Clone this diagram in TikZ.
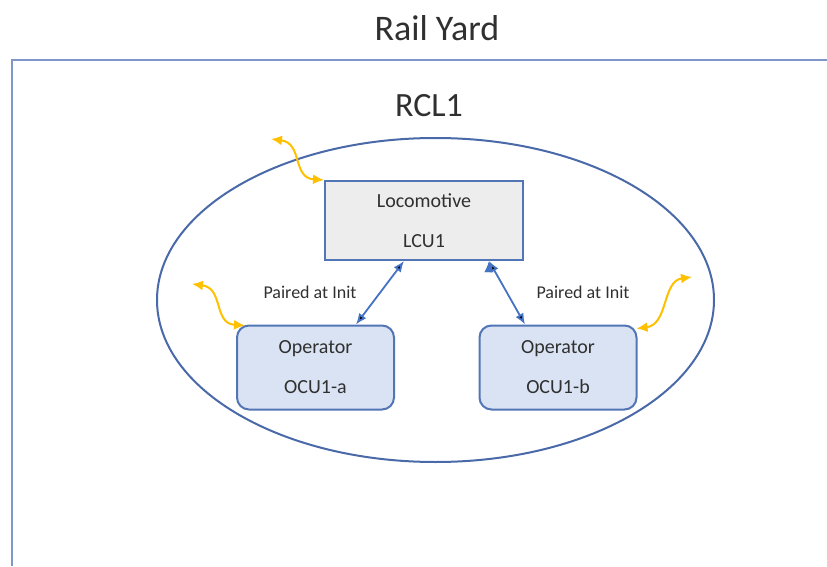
\documentclass[tikz,border=0pt]{standalone}
\usepackage{fontspec}
\setmainfont{Carlito}
\usetikzlibrary{positioning,arrows.meta,shapes.geometric}

\definecolor{yardline}{HTML}{7F97C9}
\definecolor{rclline}{HTML}{4A69A8}
\definecolor{boxline}{HTML}{5275B5}
\definecolor{locofill}{HTML}{EDEDED}
\definecolor{opfill}{HTML}{DAE3F3}
\definecolor{pairarrow}{HTML}{4472C4}
\definecolor{radioarrow}{HTML}{FFC000}
\definecolor{txt}{HTML}{303030}

\tikzset{
  unit/.style={draw=boxline, line width=2pt, align=center, text=txt,
    font=\fontsize{20}{40}\selectfont},
  loco/.style={unit, fill=locofill, minimum width=198pt, minimum height=79pt},
  oper/.style={unit, fill=opfill, rounded corners=12pt, minimum width=157pt, minimum height=84pt},
  pairlink/.style={draw=pairarrow, line width=1.8pt, {Latex[length=11pt,width=9pt]}-{Latex[length=11pt,width=9pt]}},
  radiolink/.style={draw=radioarrow, line width=2pt, {Latex[length=11pt,width=10pt]}-{Latex[length=11pt,width=10pt]}}
}

\begin{document}
\begin{tikzpicture}[x=1pt, y=1pt, text=txt]
    \useasboundingbox (0,0) rectangle (827,566);

    % rail yard frame
    \draw[yardline, line width=2pt] (12,0) |- (827,506);
    \node[font=\fontsize{36}{40}\selectfont] (yard) at (437,538) {Rail Yard};

    % remote control locomotive set
    \node[draw=rclline, line width=2pt, ellipse, inner sep=0pt, minimum width=557pt, minimum height=324pt] (rcl) at (435.5,266) {};
    \node[font=\fontsize{34}{38}\selectfont] (rcltitle) at (429,460) {RCL1};

    \node[loco] (lcu) at (424,345.5) {Locomotive\\LCU1};
    \node[oper] (ocua) at (315.5,198.5) {Operator\\OCU1-a};
    \node[oper] (ocub) at (558,198.5) {Operator\\OCU1-b};

    \path[pairlink]
    ([xshift=-20pt]lcu.south) edge ([xshift=40.5pt]ocua.north)
    ([xshift=65pt]lcu.south) edge ([xshift=-33pt]ocub.north);

    \node[font=\fontsize{18}{22}\selectfont] (paira) at (310,274) {Paired at Init};
    \node[font=\fontsize{18}{22}\selectfont] (pairb) at (583,274) {Paired at Init};

    % radio links
    \coordinate (radiol) at (271,427);
    \coordinate (radioa) at (192,282);
    \coordinate (radiob) at (692,289);
    \draw[radiolink] (radiol) .. controls +(32,-4) and +(-32,2) .. (lcu.north west);
    \draw[radiolink] (radioa) .. controls +(32,-4) and +(-32,2) .. ([xshift=9pt,yshift=-1pt]ocua.north west);
    \draw[radiolink] ([xshift=-1pt,yshift=-4pt]ocub.north east) .. controls +(32,4) and +(-30,-4) .. (radiob);
\end{tikzpicture}
\end{document}
